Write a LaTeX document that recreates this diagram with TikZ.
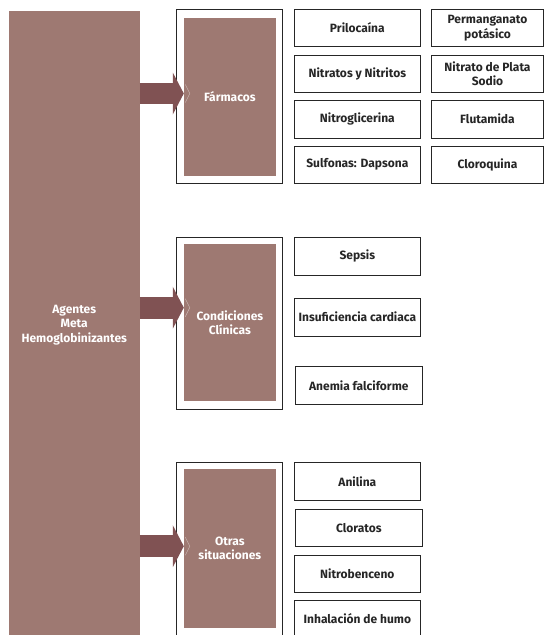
\documentclass[tikz,border=0pt]{standalone}
\usepackage{fontspec}
\setmainfont{Fira Sans}
\usetikzlibrary{arrows.meta,positioning}
\definecolor{rosa}{RGB}{158,121,114}
\definecolor{granate}{RGB}{128,82,83}
\tikzset{
	caja/.style={draw=black!85,line width=0.9pt,fill=white,minimum height=37.5pt,align=center,text=black!85,inner sep=1pt,font=\bfseries\fontsize{12}{14.5}\selectfont},
	marco/.style={draw=black!85,line width=0.9pt,minimum width=106pt},
	bloque/.style={fill=rosa,text=white,align=center,inner sep=1pt,font=\bfseries\fontsize{12}{14.5}\selectfont},
	flecha/.style={draw=granate,line width=21.6pt,-{Triangle[width=42pt,length=11pt,line width=0pt]}},
	sombra/.style={draw=rosa!55!white,line width=0.5pt}
}
\begin{document}
\begin{tikzpicture}[x=1pt,y=-1pt]
	\useasboundingbox (0,0) rectangle (544,635);
	\node[bloque,minimum width=130.5pt,minimum height=628pt] (agentes) at (74.25,325) {Agentes\\Meta\\Hemoglobinizantes};
	% grupos
	\node[marco,minimum height=174pt] (mfarm) at (229.7,96.3) {};
	\node[bloque,minimum width=91.7pt,minimum height=157.4pt] (farm) at (229.85,97) {Fármacos};
	\node[marco,minimum height=172pt] (mcond) at (229.7,323.3) {};
	\node[bloque,minimum width=91.7pt,minimum height=157pt] (cond) at (229.85,322.5) {Condiciones\\Clínicas};
	\node[marco,minimum height=184pt] (motras) at (229.7,554.7) {};
	\node[bloque,minimum width=91.7pt,minimum height=158.4pt] (otras) at (229.85,548.5) {Otras\\situaciones};
	% flechas
	\coordinate (f1) at (0,93.5);
	\coordinate (f2) at (0,307.7);
	\coordinate (f3) at (0,546.2);
	\foreach \g/\f in {farm/f1,cond/f2,otras/f3}{
		\draw[flecha] (agentes.east |- \f) -- (\g.west |- \f);
		\draw[sombra] (\g.west |- \f) ++(1.5,-9) -- ++(4.5,9) -- ++(-4.5,9);
	}
	% cajas
	\foreach \nom/\x/\y/\w/\txt in {
		prilo/357.35/28/126.7/Prilocaína,
		perma/487.5/28/111.7/{Permanganato\\potásico},
		nitra/357.35/73.7/126.7/Nitratos y Nitritos,
		plata/487.5/73.7/111.7/{Nitrato de Plata\\Sodio},
		nitrogli/357.35/119.2/126.7/Nitroglicerina,
		fluta/487.5/119.2/111.7/Flutamida,
		sulfo/357.35/164.7/126.7/Sulfonas: Dapsona,
		cloroq/487.5/164.7/111.7/Cloroquina,
		sepsis/357.35/256.3/126.7/Sepsis,
		insuf/357.35/317.2/126.7/Insuficiencia cardiaca,
		anemia/358.85/385.5/126.7/Anemia falciforme,
		anilina/357.35/481.3/126.7/Anilina,
		clorat/358.85/527.8/126.7/Cloratos,
		nitrob/357.35/573.7/126.7/Nitrobenceno,
		humo/357.35/618.7/126.7/Inhalación de humo}
		\node[caja,minimum width=\w pt] (\nom) at (\x,\y) {\txt};
\end{tikzpicture}
\end{document}
